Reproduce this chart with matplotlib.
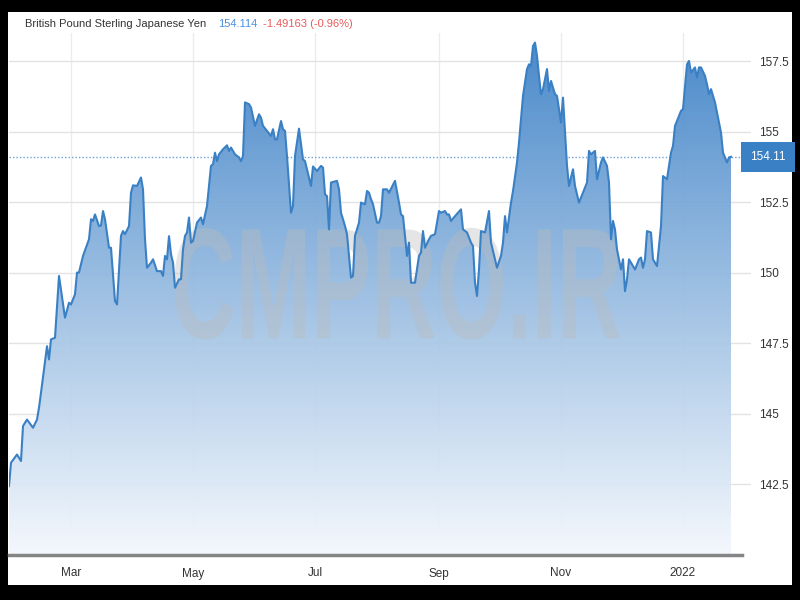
import numpy as np
import matplotlib

matplotlib.use("Agg")
import matplotlib.pyplot as plt
import matplotlib.dates as mdates
from matplotlib import patheffects
from matplotlib.colors import LinearSegmentedColormap
from matplotlib.patches import Polygon, Rectangle
from matplotlib.transforms import Affine2D, blended_transform_factory

plt.rcParams["font.family"] = ["Liberation Sans", "DejaVu Sans"]

# GBP/JPY daily close (days counted from start_date)
start_date = "2021-01-29"
day_offsets = [
    0, 1, 4, 6, 7, 9, 12, 14, 15, 16, 19, 20, 21, 23, 25, 28, 30, 31, 33, 34,
    35, 37, 40, 41, 42, 43, 45, 46, 47, 48, 50, 51, 53, 54, 56, 57, 58, 60, 61, 62,
    64, 66, 67, 68, 69, 71, 72, 74, 76, 77, 78, 79, 80, 81, 82, 83, 85, 86, 87, 88,
    89, 90, 91, 92, 94, 96, 97, 99, 101, 102, 103, 104, 105, 107, 109, 110, 111, 113, 115, 116,
    117, 118, 120, 121, 123, 125, 126, 127, 129, 131, 132, 133, 134, 136, 137, 138, 139, 141, 142, 143,
    145, 147, 148, 149, 151, 152, 154, 156, 157, 158, 159, 160, 161, 164, 165, 166, 168, 169, 171, 172,
    173, 175, 176, 178, 179, 180, 181, 182, 184, 185, 186, 187, 189, 190, 193, 195, 196, 197, 198, 199,
    200, 201, 203, 205, 206, 207, 208, 210, 211, 213, 215, 216, 218, 219, 220, 221, 223, 226, 227, 229,
    231, 232, 233, 234, 235, 236, 238, 240, 241, 244, 246, 247, 248, 249, 251, 252, 254, 255, 257, 259,
    260, 261, 262, 263, 264, 265, 266, 267, 269, 270, 271, 273, 274, 275, 276, 277, 279, 280, 282, 283,
    285, 287, 289, 290, 291, 293, 294, 296, 297, 299, 300, 301, 302, 303, 304, 306, 307, 308, 309, 310,
    311, 313, 315, 316, 317, 318, 319, 321, 322, 324, 326, 327, 329, 331, 332, 333, 335, 336, 337, 339,
    340, 341, 343, 344, 345, 346, 348, 349, 350, 351, 353, 354, 356, 357, 359, 360, 361,
]
rates = [
    142.44, 143.27, 143.56, 143.33, 144.57, 144.80, 144.51, 144.80, 145.22, 145.75,
    147.40, 146.93, 147.64, 147.70, 149.89, 148.41, 148.94, 148.88, 149.24, 150.01,
    150.01, 150.60, 151.19, 151.90, 151.84, 152.07, 151.66, 151.68, 152.19, 151.90,
    150.89, 150.89, 149.00, 148.88, 151.31, 151.48, 151.37, 151.66, 152.84, 153.10,
    153.08, 153.38, 152.96, 151.19, 150.18, 150.36, 150.48, 150.06, 150.06, 149.89,
    150.60, 150.48, 151.30, 150.66, 150.36, 149.47, 149.77, 149.77, 150.83, 151.31,
    151.43, 151.96, 151.07, 151.13, 151.78, 151.96, 151.72, 152.37, 153.79, 153.85,
    154.26, 153.96, 154.20, 154.38, 154.52, 154.32, 154.44, 154.20, 154.09, 153.96,
    154.14, 156.04, 155.98, 155.86, 155.21, 155.62, 155.50, 155.21, 155.03, 154.85,
    155.09, 154.73, 154.73, 155.38, 155.09, 155.03, 154.14, 152.13, 152.37, 154.14,
    155.11, 154.02, 153.96, 153.67, 153.08, 153.77, 153.61, 153.79, 153.73, 152.78,
    152.72, 151.54, 153.20, 153.26, 152.96, 152.13, 151.66, 151.37, 149.83, 149.89,
    151.31, 151.78, 152.49, 152.43, 152.90, 152.84, 152.61, 152.43, 151.78, 151.78,
    152.01, 152.96, 152.96, 152.84, 153.26, 152.49, 152.07, 152.01, 151.31, 150.60,
    151.07, 149.65, 149.65, 150.60, 150.72, 151.48, 150.89, 151.19, 151.31, 151.37,
    152.19, 152.13, 152.19, 152.07, 152.07, 151.84, 152.01, 152.25, 151.54, 151.43,
    151.07, 150.95, 149.65, 149.18, 150.12, 151.48, 151.43, 152.19, 151.07, 150.18,
    150.60, 151.07, 152.01, 151.43, 152.49, 152.90, 153.91, 154.62, 156.27, 157.22,
    157.39, 157.33, 158.04, 158.16, 157.69, 156.98, 156.33, 156.51, 157.22, 156.45,
    156.80, 156.33, 156.27, 155.80, 155.33, 156.21, 153.79, 153.08, 153.67, 153.08,
    152.49, 152.84, 153.20, 154.32, 154.20, 154.32, 153.32, 153.91, 154.09, 153.79,
    153.20, 151.19, 151.84, 151.54, 150.83, 150.12, 150.48, 149.35, 149.77, 150.48,
    150.36, 150.12, 150.48, 150.54, 150.18, 150.48, 151.48, 151.43, 150.48, 150.24,
    151.66, 153.43, 153.32, 154.26, 154.50, 155.21, 155.56, 155.74, 155.80, 157.39,
    157.51, 157.10, 157.28, 156.92, 157.28, 157.28, 156.98, 156.68, 156.33, 156.51,
    156.04, 155.68, 154.97, 154.26, 153.91, 154.09, 154.11,
]

y_ticks = [142.5, 145, 147.5, 150, 152.5, 155, 157.5]
y_tick_labels = ["142.5", "145", "147.5", "150", "152.5", "155", "157.5"]
month_ticks = ["2021-03-01", "2021-05-01", "2021-07-01", "2021-09-01", "2021-11-01", "2022-01-01"]
month_labels = ["Mar", "May", "Jul", "Sep", "Nov", "2022"]

title = "British Pound Sterling Japanese Yen"
last_price = 154.114
change = -1.49163
change_pct = -0.96
watermark = "CMPRO.IR"


class Stretch(patheffects.AbstractPathEffect):
    """Scale the glyph outlines about their own centre."""

    def __init__(self, sx=1.0, sy=1.0):
        super().__init__()
        self.sx, self.sy = sx, sy

    def draw_path(self, renderer, gc, tpath, affine, rgbFace=None):
        box = tpath.get_extents(affine)
        cx, cy = (box.x0 + box.x1) / 2, (box.y0 + box.y1) / 2
        t = affine + Affine2D().translate(-cx, -cy).scale(self.sx, self.sy).translate(cx, cy)
        renderer.draw_path(gc, tpath, t, rgbFace)


dates = np.datetime64(start_date) + np.array(day_offsets).astype("timedelta64[D]")
xnum = mdates.date2num(dates)
y_lo, y_hi = 140.0, 158.5

fig = plt.figure(figsize=(8, 6), dpi=100, facecolor="black")
fig.add_artist(Rectangle((8 / 800, 15 / 600), 784 / 800, 573 / 600,
                         transform=fig.transFigure, facecolor="white", edgecolor="none", zorder=0))

ax = fig.add_axes([9 / 800, 45 / 600, 742 / 800, 522 / 600])
ax.set_facecolor("white")
ax.set_axisbelow(True)

# gradient area under the line
cmap = LinearSegmentedColormap.from_list("fade", ["#3b80c6", "#f4f8fd"])
grad = np.linspace(0, 1, 256).reshape(-1, 1)
img = ax.imshow(grad, cmap=cmap, aspect="auto", extent=[xnum[0], xnum[-1], y_lo, y_hi],
                zorder=1, interpolation="bilinear", alpha=0.93)
verts = [(xnum[0], y_lo)] + list(zip(xnum, rates)) + [(xnum[-1], y_lo)]
area = Polygon(verts, closed=True, facecolor="none", edgecolor="none")
ax.add_patch(area)
img.set_clip_path(area)

ax.text(0.522, 0.505, watermark, transform=ax.transAxes, ha="center", va="center",
        fontsize=65, fontweight="bold", color="#bbbbbb", alpha=0.38, zorder=2,
        path_effects=[Stretch(1.0, 1.75)])

ax.plot(dates, rates, color="#3a80c4", lw=1.5, zorder=3)

ax.set_xlim(np.datetime64(start_date), np.datetime64(start_date) + np.timedelta64(371, "D"))
ax.set_ylim(y_lo, y_hi)

ax.set_yticks(y_ticks)
ax.set_yticklabels(y_tick_labels)
ax.set_xticks(np.array(month_ticks, dtype="datetime64[D]"))
ax.set_xticklabels(month_labels)
ax.yaxis.tick_right()
ax.tick_params(axis="y", length=0, pad=6, labelsize=8.5, labelcolor="#333333")
ax.tick_params(axis="x", length=0, pad=9, labelsize=8.5, labelcolor="#333333")
ax.grid(axis="y", color="#e3e3e3", lw=1)
ax.grid(axis="x", color="#ececec", lw=1)
for s in ax.spines.values():
    s.set_visible(False)

ax.axhline(y_lo, xmax=0.988, color="#858585", lw=2.5, zorder=4, clip_on=False)
ax.axhline(last_price, color="#6fa0d6", lw=1, ls=(0, (1, 1.5)), zorder=2)

blend = blended_transform_factory(ax.transAxes, ax.transData)
ax.text((768 - 9) / 742, last_price, f"{last_price:.2f}", transform=blend,
        ha="center", va="center", color="white", fontsize=8.5, zorder=6, clip_on=False,
        bbox=dict(boxstyle="square,pad=0.75", facecolor="#3a80c4", edgecolor="none"))

fig.text(25 / 800, 1 - 24 / 600, title, fontsize=8, color="#333333", va="center")
fig.text(218 / 800, 1 - 24 / 600, f"{last_price:.3f}", fontsize=8, color="#4a90d9", va="center")
fig.text(263 / 800, 1 - 24 / 600, f"{change:.5f} ({change_pct:.2f}%)", fontsize=8,
         color="#e85a5a", va="center")

fig.savefig("out.png", dpi=100, facecolor=fig.get_facecolor())
